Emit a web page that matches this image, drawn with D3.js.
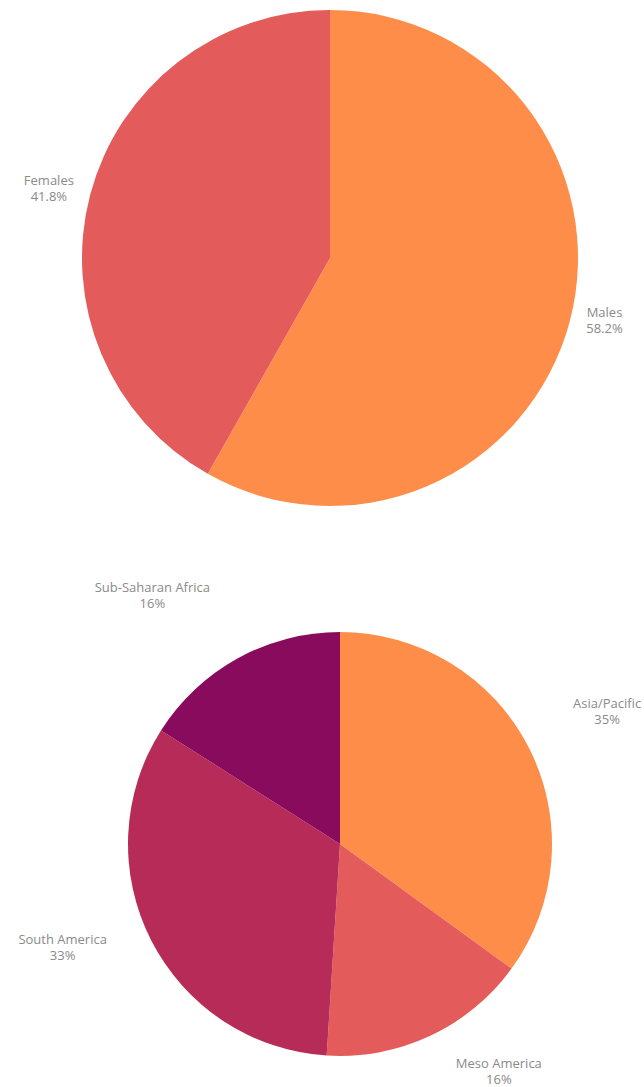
<!DOCTYPE html>
<html>
<head>
<meta charset="utf-8">
<script src="https://cdn.jsdelivr.net/npm/d3@7"></script>
<style>
  body { margin: 0; background: #fff; }
  text { font-family: "Open Sans", sans-serif; }
</style>
</head>
<body>
<div id="charts"></div>
<script>
// gender split
var gender_labels = ["Males", "Females"];
var gender_values = [58.2, 41.8];
var gender_colors = ["#fd8d49", "#e35b5a"];

// regional split
var region_labels = ["Asia/Pacific", "Meso America", "South America", "Sub-Saharan Africa"];
var region_values = [35, 16, 33, 16];
var region_colors = ["#fd8d49", "#e35b5a", "#b62b57", "#890b5d"];

var svg = d3.select("#charts")
            .append("svg")
            .attr("width", 644)
            .attr("height", 1087);

function drawPie(labels, values, colors, cx, cy, radius, gap, shiftY, fmt) {
    var data = labels.map((l, i) => ({label: l, value: values[i], color: colors[i]}));
    var pie = d3.pie().sort(null).value(d => d.value);
    var arc = d3.arc().innerRadius(0).outerRadius(radius);
    var labelArc = d3.arc().innerRadius(radius + gap).outerRadius(radius + gap);
    var total = d3.sum(values);

    var g = svg.append("g")
               .attr("transform", "translate(" + cx + "," + cy + ")");

    g.selectAll("path")
     .data(pie(data))
     .enter()
     .append("path")
     .attr("d", arc)
     .attr("fill", d => d.data.color);

    var labels_g = g.selectAll("g.label")
                    .data(pie(data))
                    .enter()
                    .append("g")
                    .attr("class", "label");

    var txt = labels_g.append("text")
                      .attr("text-anchor", "middle")
                      .style("font-size", "13px")
                      .style("fill", "#8a8a8a");
    txt.append("tspan").attr("x", 0).attr("dy", "0.35em").text(d => d.data.label);
    txt.append("tspan").attr("x", 0).attr("dy", "1.25em").text(d => fmt(d.data.value / total));

    // outside text: push the box away from the pie
    labels_g.each(function(d) {
        var bb = this.getBBox();
        var p = labelArc.centroid(d);
        var dx = bb.width / 2, dy = bb.height / 2;
        if (p[0] < 0) dx *= -1;
        if (p[1] < 0) dy *= -1;
        var ox = dx + Math.abs(dy) * (dx > 0 ? 1 : -1) / 2;
        var oy = dy / (1 + p[0] * p[0] / (p[1] * p[1]));
        var midY = bb.y + bb.height / 2;
        d3.select(this).attr("transform", "translate(" + (p[0] + ox) + "," + (p[1] + oy - midY + shiftY) + ")");
    });
}

drawPie(gender_labels, gender_values, gender_colors, 330, 258, 248, 8, -4, d3.format(".1%"));
drawPie(region_labels, region_values, region_colors, 340, 844, 212, 40, -15, d3.format(".0%"));
</script>
</body>
</html>
